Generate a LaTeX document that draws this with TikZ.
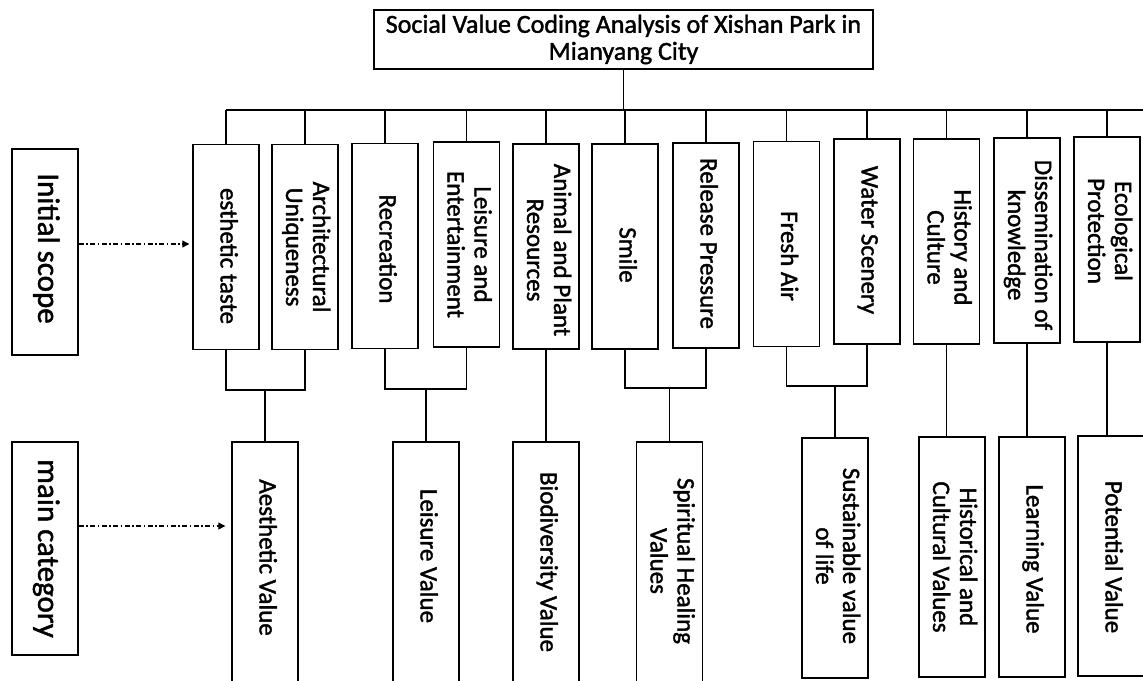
\documentclass[tikz,border=0pt]{standalone}
\usepackage{graphicx}
\usepackage{fontspec}
\setmainfont{Carlito}[FakeBold=1.5]
\usetikzlibrary{arrows.meta}
\newcommand{\vtext}[2][0pt]{\rotatebox{-90}{\hspace*{\dimexpr#1\relax}\begin{tabular}{@{}c@{}}#2\end{tabular}\hspace*{-\dimexpr#1\relax}}}
\tikzset{
 box/.style={draw, line width=1.4pt, fill=white, minimum width=66pt, minimum height=205pt, inner sep=0pt, font=\fontsize{25}{27}\selectfont},
 bbox/.style={box, minimum height=240pt},
 obox/.style={box, minimum height=278pt},
 lbl/.style={box, font=\fontsize{31}{34}\selectfont, minimum height=206pt},
 conn/.style={line width=1.4pt},
 arr/.style={line width=1.1pt, dash pattern=on 5pt off 2.5pt on 1.5pt off 2.5pt, -{Triangle[length=7pt,width=7pt]}}
}
\begin{document}
\begin{tikzpicture}[x=1pt,y=-1pt]
\useasboundingbox (0,0) rectangle (1143,680);
\clip (0,0) rectangle (1143,680);
% title
\node[box, minimum width=499pt, minimum height=59pt, align=center, font=\fontsize{26}{27}\selectfont] (title) at (623.5,39.5) {Social Value Coding Analysis of Xishan Park in\\Mianyang City};
% left labels
\node[lbl] (scope) at (45,252) {\vtext[-3.5pt]{Initial scope}};
\node[lbl, minimum height=213pt] (main) at (45,548.5) {\vtext{main category}};
% initial scope boxes
\node[box] (t1) at (226,247) {\vtext[9pt]{esthetic taste}};
\node[box] (t2) at (305,247) {\vtext{Architectural\\Uniqueness}};
\node[box] (t3) at (385,246) {\vtext[3pt]{Recreation}};
\node[box] (t4) at (466.5,244.5) {\vtext{Leisure and\\Entertainment}};
\node[box] (t5) at (546,246.5) {\vtext[3.5pt]{Animal and Plant\\Resources}};
\node[box] (t6) at (625,246.5) {\vtext[8.5pt]{Smile}};
\node[box] (t7) at (706,245.5) {\vtext[-2pt]{Release Pressure}};
\node[box] (t8) at (786.5,244) {\vtext[12pt]{Fresh Air}};
\node[box] (t9) at (867,241.5) {\vtext[-1.5pt]{Water Scenery}};
\node[box] (t10) at (946.5,241.5) {\vtext[6pt]{History and\\Culture}};
\node[box] (t11) at (1027,240.5) {\vtext[4.5pt]{Dissemination of\\knowledge}};
\node[box] (t12) at (1107,239.5) {\vtext[-8.5pt]{Ecological\\Protection}};
% main category boxes
\node[obox] (a) at (265,581) {\vtext[-23.5pt]{Aesthetic Value}};
\node[obox] (b) at (426,581) {\vtext[-25pt]{Leisure Value}};
\node[obox] (c) at (546,581) {\vtext[-19pt]{Biodiversity Value}};
\node[obox] (d) at (669.5,581) {\vtext[-20pt]{Spiritual Healing\\Values}};
\node[bbox] (e) at (835,558) {\vtext[-2pt]{Sustainable value\\of life}};
\node[bbox] (f) at (952,557) {\vtext{Historical and\\Cultural Values}};
\node[bbox] (g) at (1032,557) {\vtext[2pt]{Learning Value}};
\node[bbox] (h) at (1111,556) {\vtext[1pt]{Potential Value}};
% top bus
\coordinate (busR) at (1150,110);
\draw[conn] (title.south) -- (title.south |- busR);
\draw[conn] (t1.north |- busR) -- (busR);
\foreach \n in {t1,t2,t3,t4,t5,t6,t7,t8,t9,t10,t11,t12}{
  \draw[conn] (\n.north) -- (\n.north |- busR);
}
% bottom brackets
\coordinate (brA) at (0,390);
\coordinate (brB) at (0,389);
\coordinate (brD) at (0,388);
\coordinate (brE) at (0,386);
\draw[conn] (t1.south) -- (t1.south |- brA) -| (t2.south);
\draw[conn] (a.north) -- (a.north |- brA);
\draw[conn] (t3.south) -- (t3.south |- brB) -| (t4.south);
\draw[conn] (b.north) -- (b.north |- brB);
\draw[conn] (t5.south) -- (t5.south |- c.north);
\draw[conn] (t6.south) -- (t6.south |- brD) -| (t7.south);
\draw[conn] (d.north) -- (d.north |- brD);
\draw[conn] (t8.south) -- (t8.south |- brE) -| (t9.south);
\draw[conn] (e.north) -- (e.north |- brE);
\draw[conn] (t10.south) -- (t10.south |- f.north);
\draw[conn] (t11.south) -- (t11.south |- g.north);
\draw[conn] (t12.south) -- (t12.south |- h.north);
% arrows
\draw[arr, shorten >=3pt] ([yshift=8pt]scope.east) -- ([yshift=8pt]scope.east -| t1.west);
\draw[arr, shorten >=6pt] ([yshift=22.5pt]main.east) -- ([yshift=22.5pt]main.east -| a.west);
\end{tikzpicture}
\end{document}
